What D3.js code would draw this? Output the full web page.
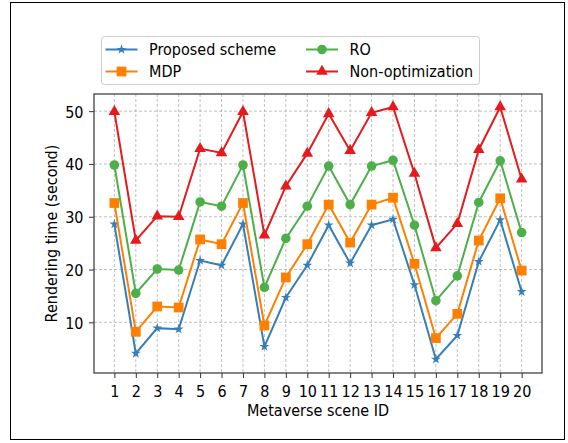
<!DOCTYPE html>
<html><head><meta charset="utf-8">
<script src="https://cdn.jsdelivr.net/npm/d3@7/dist/d3.min.js"></script>
<style>body{margin:0;background:#fff}svg{display:block}text{font-family:"DejaVu Sans",sans-serif}</style>
</head><body>
<svg id="c" width="568" height="443"></svg>
<script>
const scenes = d3.range(1, 21);
const proposed = [28.6, 4.1, 8.9, 8.7, 21.7, 20.8, 28.6, 5.4, 14.7, 20.8, 28.4, 21.2, 28.4, 29.5, 17.1, 3.0, 7.5, 21.5, 29.4, 15.8];
const mdp      = [32.6, 8.2, 13.0, 12.8, 25.7, 24.8, 32.6, 9.4, 18.5, 24.8, 32.3, 25.1, 32.3, 33.6, 21.1, 7.0, 11.6, 25.5, 33.5, 19.8];
const ro       = [39.8, 15.5, 20.1, 19.9, 32.8, 32.0, 39.8, 16.6, 25.9, 32.0, 39.6, 32.3, 39.6, 40.7, 28.4, 14.1, 18.8, 32.7, 40.6, 27.0];
const nonopt   = [49.9, 25.5, 30.1, 30.0, 42.9, 42.1, 49.9, 26.5, 35.8, 42.0, 49.5, 42.5, 49.7, 50.8, 38.2, 24.1, 28.7, 42.7, 50.8, 37.1];
const yTicks = [10, 20, 30, 40, 50];
const seriesNames = ["Proposed scheme", "MDP", "RO", "Non-optimization"];
const seriesColors = ["#377eb8", "#ff7f00", "#4daf4a", "#e41a1c"];
const seriesSymbols = [d3.symbolStar, d3.symbolSquare, d3.symbolCircle, d3.symbolTriangle];
const seriesSizes = [30, 95, 72, 58];
const seriesData = [proposed, mdp, ro, nonopt];

const svg = d3.select("#c");
const fs = 14.4, sy = 1.13;
// outer figure border
svg.append("rect").attr("x", 10.5).attr("y", 2.5).attr("width", 554).attr("height", 437)
  .attr("fill", "#fff").attr("stroke", "#000").attr("stroke-width", 1);

const L = 94, R = 542, T = 94, B = 373;
const x = d3.scaleLinear().domain([0.05, 20.95]).range([L, R]);
const y = d3.scaleLinear().domain([0.4, 53.25]).range([B, T]);

const g = svg.append("g");
// grid
g.selectAll(".gx").data(scenes).enter().append("line")
  .attr("x1", d => x(d)).attr("x2", d => x(d)).attr("y1", T).attr("y2", B)
  .attr("stroke", "#b0b0b0").attr("stroke-width", 0.8).attr("stroke-dasharray", "3,2");
g.selectAll(".gy").data(yTicks).enter().append("line")
  .attr("y1", d => y(d)).attr("y2", d => y(d)).attr("x1", L).attr("x2", R)
  .attr("stroke", "#b0b0b0").attr("stroke-width", 0.8).attr("stroke-dasharray", "3,2");

// axes
const xAxis = d3.axisBottom(x).tickValues(scenes).tickSize(5).tickFormat(d3.format("d"));
const yAxis = d3.axisLeft(y).tickValues(yTicks).tickSize(5);
const ax = svg.append("g").attr("transform", `translate(0,${B})`).call(xAxis);
const ay = svg.append("g").attr("transform", `translate(${L},0)`).call(yAxis);
[ax, ay].forEach(a => {
  a.select(".domain").remove();
  a.selectAll("line").attr("stroke", "#333").attr("stroke-width", 1);
  a.selectAll("text").attr("font-size", fs).attr("fill", "#000").style("font-family", "DejaVu Sans")
    .attr("x", 0).attr("y", 0).attr("dy", 0);
});
ax.selectAll("text").attr("transform", `translate(0,23.7) scale(1,${sy})`);
ay.selectAll("text").attr("transform", `translate(-10.5,6) scale(1,${sy})`);

// series
const line = d3.line().x((d, i) => x(scenes[i])).y(d => y(d));
seriesData.forEach((data, k) => {
  svg.append("path").datum(data).attr("d", line).attr("fill", "none")
    .attr("stroke", seriesColors[k]).attr("stroke-width", 2);
  svg.selectAll(".m" + k).data(data).enter().append("path")
    .attr("transform", (d, i) => `translate(${x(scenes[i])},${y(d)})`)
    .attr("d", d3.symbol().type(seriesSymbols[k]).size(seriesSizes[k]))
    .attr("fill", seriesColors[k]);
});

// frame
svg.append("rect").attr("x", L).attr("y", T).attr("width", R - L).attr("height", B - T)
  .attr("fill", "none").attr("stroke", "#333").attr("stroke-width", 1.2);

// labels
svg.append("text").attr("transform", `translate(${(L + R) / 2},416) scale(1,${sy})`).attr("text-anchor", "middle")
  .attr("font-size", fs).attr("fill", "#000").text("Metaverse scene ID");
svg.append("text").attr("transform", `translate(56.7,${(T + B) / 2}) rotate(-90) scale(1,${sy})`).attr("text-anchor", "middle")
  .attr("font-size", fs).attr("fill", "#000").text("Rendering time (second)");

// legend
const lg = svg.append("g");
lg.append("rect").attr("x", 101.5).attr("y", 36.5).attr("width", 378).attr("height", 48).attr("rx", 3)
  .attr("fill", "#fff").attr("stroke", "#cccccc").attr("stroke-width", 1);
const legPos = [[105.5, 49.5], [105.5, 71.5], [306, 49.5], [306, 71.5]];
seriesNames.forEach((name, k) => {
  const [lx, ly] = legPos[k];
  lg.append("line").attr("x1", lx).attr("x2", lx + 32).attr("y1", ly).attr("y2", ly)
    .attr("stroke", seriesColors[k]).attr("stroke-width", 2);
  lg.append("path").attr("transform", `translate(${lx + 16},${ly})`)
    .attr("d", d3.symbol().type(seriesSymbols[k]).size(seriesSizes[k]))
    .attr("fill", seriesColors[k]);
  lg.append("text").attr("transform", `translate(${lx + 43.5},${ly + 5.5}) scale(1,${sy})`)
    .attr("font-size", fs).attr("fill", "#000").text(name);
});
</script>
</body></html>
